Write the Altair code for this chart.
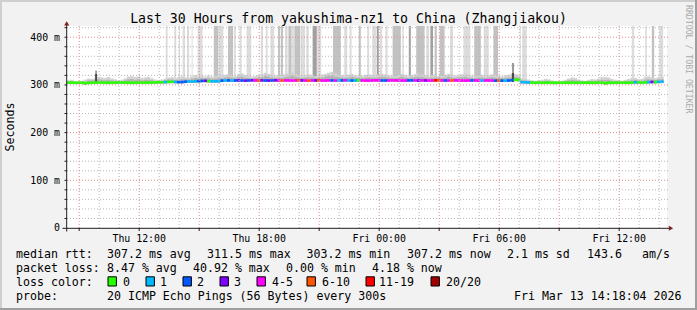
import altair as alt
import pandas as pd

# ------------------------------------------------------------------ data
START_H, END_H = 8.39, 38.39     # hours since Thu 00:00  (Thu 08:23 .. Fri 14:23)
BIN_H = 1 / 6                    # 10-minute bins
Y_MAX = 423.5                    # ms at the top edge of the plot

loss_labels = ["0", "1", "2", "3", "4-5", "6-10", "11-19", "20/20"]
loss_colors = ["#26ff00", "#00b8ff", "#0059ff", "#7e00ff",
               "#ff00ff", "#ff5500", "#ff0000", "#a10000"]

# loss class of every 10-minute bin (index into loss_labels)
loss_code = "".join([
    "0" * 29, "1", "00", "1", "222", "11", "12", "23", "0", "111",
    "2121", "23232", "34", "5", "32323", "4544445", "34543", "5", "44424",
    "12412", "1044", "444422444444", "22", "434344", "6", "542454",
    "4444244144425", "21", "22", "00", "111", "0" * 31, "1", "000", "1", "3",
    "0", "11",
])

# median rtt (ms) per bin
median_ms = [
    304.8, 304.8, 304.6, 304.6, 304.7, 303.2, 304.5, 304.6, 304.8, 305.0,
    304.9, 304.7, 304.6, 304.6, 304.8, 304.9, 305.0, 304.8, 304.7, 304.6,
    304.6, 304.7, 304.8, 304.8, 304.9, 305.0, 305.2, 305.4, 305.6,
    306.0, 306.4, 306.6, 306.2, 305.8, 306.0, 306.8, 307.2, 307.0, 307.4,
    308.0, 308.4, 308.6, 308.0, 307.6, 307.4, 307.8,
    309.0, 309.2, 309.4, 309.1, 309.3, 309.5, 309.2, 309.0, 309.3, 309.6,
    309.4, 309.2, 309.5, 309.3, 309.1, 309.4, 309.6, 309.3, 309.2, 309.5,
    309.4, 309.1, 309.3, 309.6, 309.5, 309.2, 309.0, 309.3, 309.4, 309.6,
    309.3, 309.2, 309.5, 309.4, 309.1, 309.3, 309.5, 309.6, 309.4, 309.2,
    309.3, 309.5, 309.4, 309.2, 309.1, 309.3, 309.6, 309.5, 309.3, 309.2,
    309.4, 309.6, 309.5, 309.3, 309.1, 309.2, 309.4, 309.5, 309.3, 309.2,
    309.4, 309.3, 309.1, 309.2, 309.5, 309.6, 309.4, 309.3, 309.2, 309.4,
    309.5, 309.3, 309.1, 309.0, 309.2, 309.4, 309.3, 309.1, 309.2, 309.3,
    309.3, 309.2, 309.0, 309.1, 309.0, 308.9, 309.2, 310.0,
    310.8, 310.4, 305.8, 305.4, 305.2,
    304.8, 304.7, 304.6, 304.6, 304.7, 304.8, 304.6, 304.5, 304.6, 304.7,
    304.8, 304.6, 304.7, 304.6, 304.5, 304.6, 304.8, 304.7, 304.6, 304.6,
    304.5, 304.7, 303.4, 304.5, 304.6, 304.7, 304.6, 304.8, 304.7, 304.6,
    304.7, 305.6, 305.0, 304.8, 305.2, 305.8, 306.2, 306.0, 306.6, 306.8,
]

# smoke above the median (ms): outer light band and inner darker band
smoke_light = [
    5, 6, 3, 3, 4, 8, 9, 8, 9, 12, 11, 10, 12, 9, 7, 5, 6, 9, 13, 14,
    12, 13, 10, 11, 12, 9, 6, 5, 6,
    7, 9, 10, 8, 10, 12, 9, 8, 11, 13, 10, 11, 9, 12, 10, 12, 11,
    10, 12, 14, 11, 9, 13, 15, 12, 10, 8, 9, 11, 13, 16, 14, 12, 10, 9, 11, 13,
    15, 17, 14, 12, 10, 11, 13, 12, 9, 10, 12, 14, 16, 18, 15, 13, 11, 10, 12, 14,
    11, 9, 10, 12, 13, 11, 10, 12, 14, 13, 11, 10, 9, 12, 14, 12, 10, 11, 13, 15,
    13, 11, 10, 12, 11, 9, 10, 12, 14, 12, 10, 11, 13, 15, 12, 10, 9, 11, 12, 10,
    11, 13, 12, 10, 9, 11, 12, 14,
    12, 10, 8, 7, 6, 5, 4, 5, 6, 8, 7, 5, 4, 3, 4, 6, 9, 11, 10, 7,
    5, 4, 6, 8, 7, 9, 12, 13, 11, 8, 6, 5, 4, 6, 8, 10, 9, 7, 8, 11,
    12, 10, 8, 9, 10,
]
smoke_mid = [
    2, 3, 2, 2, 2, 4, 5, 5, 6, 7, 6, 5, 6, 5, 4, 3, 3, 5, 7, 8,
    6, 7, 5, 6, 6, 5, 3, 3, 3,
    4, 5, 5, 4, 5, 6, 5, 4, 6, 7, 5, 6, 5, 6, 5, 6, 6,
    5, 6, 7, 6, 5, 7, 8, 6, 5, 4, 5, 6, 7, 9, 8, 6, 5, 5, 6, 7,
    8, 10, 8, 6, 5, 6, 7, 6, 5, 5, 6, 8, 9, 10, 8, 7, 6, 5, 6, 8,
    6, 5, 5, 6, 7, 6, 5, 6, 8, 7, 6, 5, 5, 6, 8, 6, 5, 6, 7, 8,
    7, 6, 5, 6, 6, 5, 5, 6, 8, 6, 5, 6, 7, 8, 6, 5, 5, 6, 6, 5,
    6, 7, 6, 5, 5, 6, 6, 7,
    6, 5, 4, 4, 3, 3, 2, 3, 3, 4, 4, 3, 2, 2, 2, 3, 5, 6, 5, 4,
    3, 2, 3, 4, 4, 5, 6, 7, 6, 4, 3, 3, 2, 3, 4, 5, 5, 4, 4, 6,
    6, 5, 4, 5, 5,
]

# smoke columns that run off the top of the graph: start h, end h, shade
tall_start = [13.33, 13.75, 13.98, 14.17, 14.39, 14.62, 14.92, 15.73, 15.98, 16.44,
              16.73, 17.02, 17.37, 18.08, 18.33, 18.56, 18.96, 19.08, 19.29, 19.46,
              19.65, 19.77, 20.06, 20.35, 20.67, 20.90, 21.69, 22.25, 22.52, 22.98,
              23.40, 23.65, 23.88, 24.04, 24.31, 24.67, 25.15, 25.48, 25.85, 26.35,
              26.56, 26.77, 27.02, 27.54, 28.21, 28.75, 29.23, 29.71, 31.02, 31.15,
              36.63, 37.30, 37.63, 38.00]
tall_end = [13.42, 13.85, 14.04, 14.29, 14.50, 14.67, 15.17, 15.96, 16.21, 16.69,
            16.83, 17.12, 17.60, 18.19, 18.42, 18.75, 19.02, 19.19, 19.42, 19.62,
            19.77, 20.04, 20.29, 20.48, 20.88, 21.10, 22.08, 22.40, 22.62, 23.08,
            23.50, 23.85, 23.98, 24.15, 24.42, 25.08, 25.23, 25.58, 26.27, 26.50,
            26.69, 26.88, 27.27, 27.69, 28.56, 29.08, 29.48, 29.94, 31.08, 31.38,
            36.75, 37.38, 37.75, 38.20]
tall_shade = ["L", "L", "L", "L", "L", "L", "L", "M", "L", "M",
              "L", "L", "L", "L", "L", "L", "D", "M", "L", "M",
              "L", "M", "L", "L", "D", "L", "M", "L", "L", "M",
              "L", "L", "D", "L", "L", "M", "L", "D", "M", "L",
              "D", "M", "M", "L", "L", "M", "L", "M", "L", "L",
              "L", "L", "M", "L"]

# isolated slow-ping spikes: start h, end h, top of smoke, top of dark core (ms)
spike_start = [9.80, 30.64]
spike_end = [9.89, 30.74]
spike_top = [330, 346]
spike_core = [323, 325]

y_ticks = [0, 100, 200, 300, 400]
y_tick_labels = ["0\u00a0\u00a0", "100 m", "200 m", "300 m", "400 m"]
x_ticks = [12, 18, 24, 30, 36]
x_tick_labels = ["Thu 12:00", "Thu 18:00", "Fri 00:00", "Fri 06:00", "Fri 12:00"]

title = "Last 30 Hours from yakushima-nz1 to China (Zhangjiakou)"
legend_rows = [
    ["median rtt:", "307.2 ms avg", "311.5 ms max", "303.2 ms min", "307.2 ms now",
     "2.1 ms sd", "143.6", "am/s"],
    ["packet loss:", "8.47 % avg", "40.92 % max", "0.00 % min", "4.18 % now"],
    ["loss color:"],
    ["probe:", "20 ICMP Echo Pings (56 Bytes) every 300s"],
]
stamp = "Fri Mar 13 14:18:04 2026"

# ------------------------------------------------------------------ layout
OX, OY = 67, 26          # plot origin inside the 697x310 page
W, H = 600, 202
MONO = "DejaVu Sans Mono"
legend_x = [[16, 107, 207, 306.5, 407, 507, 587, 642],
            [16, 107, 193, 286, 372],
            [16],
            [16, 107]]
legend_base = [258, 272, 286, 300]
box_left = [108, 146, 183, 220, 257, 307, 366, 431]
box_text = [123, 160, 197, 234, 272, 322, 379, 446]

# ------------------------------------------------------------------ tables
n = len(loss_code)
assert n == len(median_ms) == len(smoke_light) == len(smoke_mid), (
    n, len(median_ms), len(smoke_light), len(smoke_mid))
cmap = dict(zip(loss_labels, loss_colors))
bins = pd.DataFrame({
    "t0": [START_H + i * BIN_H for i in range(n)],
    "t1": [START_H + (i + 1) * BIN_H for i in range(n)],
    "median": median_ms,
    "loss": [loss_labels[int(c)] for c in loss_code],
})
bins["col"] = bins["loss"].map(cmap)
bins["lo"] = bins["median"] - 2.7
bins["hi"] = bins["median"] + 2.7
bins["s_lo"] = bins["median"] - 3
bins["s_light"] = bins["median"] + pd.Series(smoke_light)
bins["s_mid"] = bins["median"] + pd.Series(smoke_mid)

shade_col = {"L": "#dcdcdc", "M": "#c2c2c2", "D": "#a0a0a0"}
tall = pd.DataFrame({"t0": tall_start, "t1": tall_end, "shade": tall_shade})
tall["col"] = tall["shade"].map(shade_col)
tall["lo"] = 306.0
tall["hi"] = Y_MAX

spikes = pd.DataFrame({"t0": spike_start, "t1": spike_end,
                       "top": spike_top, "core": spike_core})
spikes["lo"] = 306.0

vgrid = pd.DataFrame({"h": list(range(9, 39))})
vgrid["major"] = vgrid["h"] % 3 == 0
hgrid = pd.DataFrame({"ms": list(range(20, 421, 20))})
hgrid["major"] = hgrid["ms"] % 100 == 0

ylab = pd.DataFrame({"ms": y_ticks, "label": y_tick_labels})
xlab = pd.DataFrame({"h": x_ticks, "label": x_tick_labels})

tok = []
for r, row in enumerate(legend_rows):
    for j, t in enumerate(row):
        tok.append({"px": legend_x[r][j] - OX, "py": legend_base[r] - OY, "text": t})
for j, lab in enumerate(loss_labels):
    tok.append({"px": box_text[j] - OX, "py": legend_base[2] - OY, "text": lab})
tokens = pd.DataFrame(tok)

boxes = pd.DataFrame({
    "x0": [b - OX for b in box_left],
    "x1": [b + 8.4 - OX for b in box_left],
    "y0": [legend_base[2] - 9.2 - OY] * len(box_left),
    "y1": [legend_base[2] - OY] * len(box_left),
    "col": loss_colors,
})

borders = pd.DataFrame({
    "x0": [0, 0, 0, 695], "x1": [697, 2, 697, 697],
    "y0": [0, 0, 308, 0], "y1": [2, 310, 310, 310],
    "col": ["#cfcfcf", "#cfcfcf", "#9e9e9e", "#9e9e9e"],
})
borders[["x0", "x1"]] -= OX
borders[["y0", "y1"]] -= OY

one = pd.DataFrame({"k": [0]})

# ------------------------------------------------------------------ encodings
xs = alt.Scale(domain=[START_H, END_H], nice=False, zero=False)
ys = alt.Scale(domain=[0, Y_MAX], nice=False, zero=False)


def X(f):
    return alt.X(f"{f}:Q", scale=xs, axis=None)


def Y(f):
    return alt.Y(f"{f}:Q", scale=ys, axis=None)


def PX(f):
    return alt.X(f"{f}:Q", scale=None, axis=None)


def PY(f):
    return alt.Y(f"{f}:Q", scale=None, axis=None)


layers = []

# page border
layers.append(alt.Chart(borders).mark_rect().encode(
    x=PX("x0"), x2="x1", y=PY("y0"), y2="y1", color=alt.Color("col:N", scale=None)))

# smoke columns reaching the top
layers.append(alt.Chart(tall).mark_rect().encode(
    x=X("t0"), x2="t1", y=Y("lo"), y2="hi", color=alt.Color("col:N", scale=None)))
# short smoke
layers.append(alt.Chart(bins).mark_rect(color="#d2d2d2").encode(
    x=X("t0"), x2="t1", y=Y("s_lo"), y2="s_light"))
layers.append(alt.Chart(bins).mark_rect(color="#b2b2b2").encode(
    x=X("t0"), x2="t1", y=Y("s_lo"), y2="s_mid"))
layers.append(alt.Chart(spikes).mark_rect(color="#9a9a9a").encode(
    x=X("t0"), x2="t1", y=Y("lo"), y2="top"))
layers.append(alt.Chart(spikes).mark_rect(color="#4a4a4a").encode(
    x=X("t0"), x2="t1", y=Y("lo"), y2="core"))

# median line coloured by loss
layers.append(alt.Chart(bins).mark_rect().encode(
    x=X("t0"), x2="t1", y=Y("lo"), y2="hi", color=alt.Color("col:N", scale=None)))

# grid
layers.append(alt.Chart(vgrid).transform_filter("!datum.major").mark_rule(
    color="#b8b8b8", strokeDash=[1, 2], strokeWidth=1).encode(
    x=X("h"), y=alt.value(0), y2=alt.value(H)))
layers.append(alt.Chart(hgrid).transform_filter("!datum.major").mark_rule(
    color="#b8b8b8", strokeDash=[1, 2], strokeWidth=1).encode(
    y=Y("ms"), x=alt.value(0), x2=alt.value(W + 1)))
layers.append(alt.Chart(vgrid).transform_filter("datum.major").mark_rule(
    color="#e08a8a", strokeDash=[1, 2], strokeWidth=1).encode(
    x=X("h"), y=alt.value(0), y2=alt.value(H)))
layers.append(alt.Chart(hgrid).transform_filter("datum.major").mark_rule(
    color="#e08a8a", strokeDash=[1, 2], strokeWidth=1).encode(
    y=Y("ms"), x=alt.value(0), x2=alt.value(W + 1)))

# axes
layers.append(alt.Chart(one).mark_rule(color="#1f1f1f", strokeWidth=1).encode(
    x=alt.value(-0.3), y=alt.value(-1), y2=alt.value(H + 3.5)))
layers.append(alt.Chart(one).mark_rule(color="#1f1f1f", strokeWidth=1).encode(
    y=alt.value(H + 0.3), x=alt.value(-4.5), x2=alt.value(W + 2)))
layers.append(alt.Chart(hgrid).mark_rule(color="#1f1f1f", strokeWidth=1).encode(
    y=Y("ms"), x=alt.value(-2.5), x2=alt.value(0)))
layers.append(alt.Chart(vgrid).transform_filter("datum.major").mark_rule(
    color="#1f1f1f", strokeWidth=1).encode(
    x=X("h"), y=alt.value(H), y2=alt.value(H + 3)))
layers.append(alt.Chart(one).mark_point(shape="triangle-up", filled=True, size=26,
                                        color="#801f1f", opacity=1).encode(
    x=alt.value(-0.3), y=alt.value(-2.6)))
layers.append(alt.Chart(one).mark_point(shape="triangle-right", filled=True, size=26,
                                        color="#801f1f", opacity=1).encode(
    x=alt.value(W + 4), y=alt.value(H + 0.3)))

# tick labels
layers.append(alt.Chart(ylab).mark_text(font=MONO, fontSize=9.9, align="right",
                                        baseline="alphabetic", dy=3.4, color="#000000").encode(
    y=Y("ms"), x=alt.value(-7), text="label:N"))
layers.append(alt.Chart(xlab).mark_text(font=MONO, fontSize=9.9, align="center",
                                        baseline="alphabetic", color="#000000").encode(
    x=X("h"), y=alt.value(241.5 - OY), text="label:N"))

# titles
layers.append(alt.Chart(one).mark_text(text=title, font=MONO, fontSize=13.2,
                                       align="center", baseline="alphabetic",
                                       color="#000000").encode(
    x=alt.value(348.5 - OX), y=alt.value(23 - OY)))
layers.append(alt.Chart(one).mark_text(text="Seconds", font=MONO, fontSize=11.6,
                                       angle=270, align="center", baseline="middle",
                                       color="#000000").encode(
    x=alt.value(10.5 - OX), y=alt.value(127 - OY)))
layers.append(alt.Chart(one).mark_text(text="RRDTOOL / TOBI OETIKER", font=MONO,
                                       fontSize=8.2, angle=90, align="left",
                                       baseline="middle", color="#aaaaaa").encode(
    x=alt.value(688 - OX), y=alt.value(5 - OY)))

# legend
layers.append(alt.Chart(tokens).mark_text(font=MONO, fontSize=11.6, align="left",
                                          baseline="alphabetic", color="#000000").encode(
    x=PX("px"), y=PY("py"), text="text:N"))
layers.append(alt.Chart(one).mark_text(text=stamp, font=MONO, fontSize=11.6,
                                       align="right", baseline="alphabetic",
                                       color="#000000").encode(
    x=alt.value(681.5 - OX), y=alt.value(legend_base[3] - OY)))
layers.append(alt.Chart(boxes).mark_rect(stroke="#000000", strokeWidth=1).encode(
    x=PX("x0"), x2="x1", y=PY("y0"), y2="y1", color=alt.Color("col:N", scale=None)))

chart = alt.layer(*layers).properties(
    width=W, height=H,
    autosize=alt.AutoSizeParams(type="none"),
    padding={"left": OX, "top": OY, "right": 697 - OX - W, "bottom": 310 - OY - H},
    background="#f2f2f2",
).configure_view(stroke=None, fill="#ffffff")

chart.save("out.html", embed_options={"renderer": "svg", "actions": False})
